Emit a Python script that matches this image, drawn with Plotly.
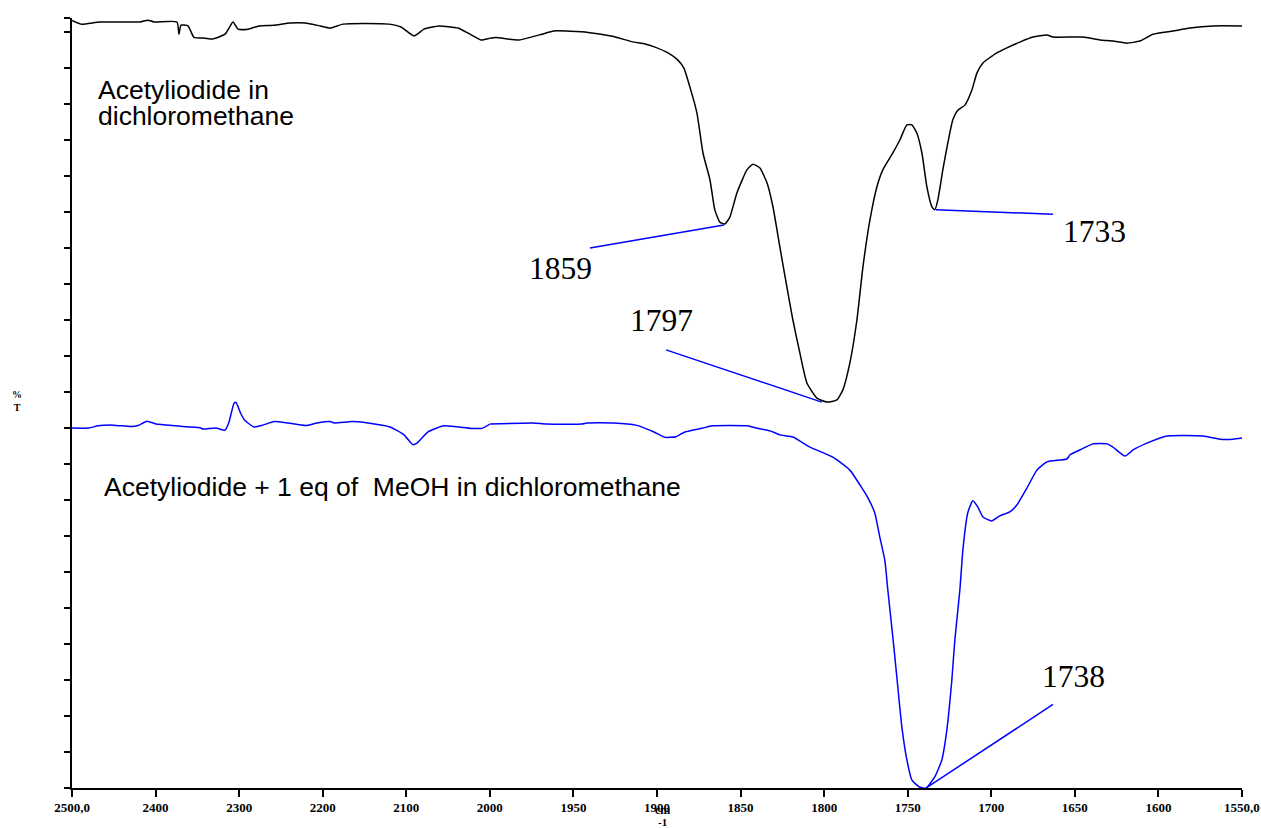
import plotly.graph_objects as go

# ---------------- data (wavenumber cm-1, %T in arbitrary tick units) ----------------
black_wn = [2500, 2489.2, 2466.5, 2418.6, 2409.1, 2401.9, 2374.4, 2372.0, 2369.6, 2361.2,
            2354.0, 2340.9, 2331.3, 2316.9, 2307.3, 2301.4, 2289.4, 2276.2, 2258.3, 2239.1,
            2221.2, 2203.2, 2191.3, 2175.7, 2120.7, 2106.3, 2090.8, 2078.8, 2060.8, 2038.1,
            2023.8, 2010.6, 2000.0, 1996.4, 1982.6, 1968.8, 1961.7, 1941.3, 1927.5, 1913.8,
            1907.2, 1901.2, 1893.4, 1887.5, 1883.9, 1880.3, 1876.1, 1872.5, 1868.3, 1865.4,
            1862.4, 1859.4, 1856.4, 1852.2, 1846.2, 1842.6, 1838.4, 1834.2, 1830.6, 1826.5,
            1822.3, 1818.7, 1814.5, 1810.3, 1804.3, 1798.3, 1792.4, 1788.8, 1784.6, 1780.4,
            1776.8, 1772.6, 1768.5, 1764.9, 1758.9, 1754.7, 1750.5, 1747.5, 1744.5, 1741.5,
            1738.5, 1735.5, 1733.8, 1732.0, 1729.0, 1726.0, 1723.0, 1720.0, 1715.8, 1711.6,
            1708.6, 1705.0, 1696.7, 1690.7, 1682.9, 1675.1, 1666.7, 1663.1, 1645.2, 1635.0,
            1627.2, 1618.8, 1611.1, 1603.3, 1591.3, 1581.2, 1567.4, 1550.0]
black_t = [21.32, 21.22, 21.28, 21.28, 21.33, 21.28, 21.28, 20.94, 21.19, 21.17,
           20.85, 20.83, 20.81, 20.94, 21.28, 21.08, 21.08, 21.17, 21.19, 21.25,
           21.25, 21.17, 21.11, 21.22, 21.22, 21.14, 20.89, 21.08, 21.17, 21.11,
           20.94, 20.78, 20.83, 20.85, 20.78, 20.94, 21.03, 20.99, 20.89, 20.72,
           20.67, 20.58, 20.42, 20.22, 20.00, 19.47, 18.75, 17.64, 16.89, 16.06,
           15.72, 15.67, 15.86, 16.53, 17.17, 17.33, 17.22, 16.81, 16.14, 15.03,
           13.92, 13.00, 12.08, 11.25, 10.83, 10.72, 10.78, 11.06, 11.81, 13.00,
           14.47, 15.78, 16.69, 17.17, 17.64, 18.00, 18.42, 18.42, 18.19, 17.64,
           16.69, 16.14, 16.06, 16.33, 17.17, 17.92, 18.56, 18.83, 18.97, 19.39,
           19.86, 20.14, 20.42, 20.56, 20.72, 20.86, 20.92, 20.86, 20.86, 20.78,
           20.75, 20.69, 20.75, 20.94, 21.03, 21.11, 21.17, 21.17]

blue_wn = [2500, 2479.7, 2468.9, 2450.2, 2429.4, 2421.0, 2410.3, 2399.5, 2375.6, 2359.4,
           2346.1, 2343.2, 2327.7, 2316.9, 2312.1, 2306.1, 2303.7, 2297.8, 2293.0, 2282.2,
           2271.5, 2258.3, 2241.5, 2220.6, 2206.8, 2191.3, 2185.9, 2164.9, 2145.8, 2119.5,
           2102.7, 2092.3, 2087.2, 2074.0, 2054.9, 2022.6, 2009.4, 2000.0, 1974.2, 1966.1,
           1944.9, 1941.9, 1926.0, 1912.6, 1901.8, 1895.2, 1888.6, 1883.3, 1872.5, 1867.1,
           1845.9, 1840.8, 1832.4, 1826.5, 1818.7, 1808.5, 1794.8, 1784.6, 1778.6, 1773.8,
           1769.7, 1766.7, 1763.7, 1761.9, 1758.9, 1756.5, 1753.5, 1750.5, 1747.5, 1742.7,
           1739.0, 1733.8, 1729.6, 1726.6, 1723.6, 1721.8, 1718.8, 1717.0, 1714.1, 1711.1,
           1708.1, 1705.0, 1699.7, 1694.9, 1688.9, 1684.7, 1678.7, 1672.7, 1666.7, 1654.8,
           1653.0, 1647.0, 1639.2, 1630.8, 1627.2, 1620.0, 1615.2, 1606.9, 1594.9, 1573.4,
           1563.2, 1555.4, 1550.0]
blue_t = [10.00, 10.00, 10.06, 10.08, 10.04, 10.07, 10.19, 10.11, 10.06, 10.03,
          10.00, 9.97, 10.00, 9.94, 10.17, 10.69, 10.71, 10.39, 10.21, 10.03,
          10.08, 10.18, 10.14, 10.07, 10.14, 10.18, 10.14, 10.18, 10.14, 10.03,
          9.81, 9.54, 9.58, 9.89, 10.06, 9.99, 9.99, 10.11, 10.14, 10.11,
          10.11, 10.14, 10.14, 10.08, 9.89, 9.74, 9.76, 9.89, 10.00, 10.06,
          10.06, 10.00, 9.92, 9.81, 9.75, 9.47, 9.19, 8.83, 8.42, 8.06,
          7.64, 6.97, 6.33, 5.50, 4.19, 3.08, 1.69, 0.78, 0.22, 0.02,
          0.00, 0.31, 0.78, 1.61, 3.00, 4.11, 5.50, 6.61, 7.64, 7.98,
          7.81, 7.53, 7.42, 7.56, 7.67, 7.86, 8.33, 8.83, 9.06, 9.14,
          9.25, 9.39, 9.56, 9.56, 9.47, 9.22, 9.39, 9.58, 9.78, 9.78,
          9.69, 9.69, 9.72]

left_ticks = [2500, 2400, 2300, 2200, 2100, 2000]
left_ticktext = ["2500,0", "2400", "2300", "2200", "2100", "2000"]
right_ticks = [1950, 1900, 1850, 1800, 1750, 1700, 1650, 1600, 1550]
right_ticktext = ["1950", "1900", "1850", "1800", "1750", "1700", "1650", "1600", "1550,0"]

# peak callouts: label, label position (wn, T), line start (wn, T), line end (wn, T)
peak_labels = ["1859", "1797", "1733", "1738"]
peak_label_wn = [1957.6, 1897.2, 1638.0, 1651.1]
peak_label_t = [14.43, 12.99, 15.47, 3.11]
peak_line_wn0 = [1940.1, 1894.6, 1733.1, 1738.7]
peak_line_t0 = [15.00, 12.17, 16.06, 0.01]
peak_line_wn1 = [1859.9, 1801.4, 1663.1, 1663.1]
peak_line_t1 = [15.64, 10.72, 15.94, 2.32]

Y_TOP = 21.39
BREAK = 2000
SPLIT = 5 / 14


def split(wn, t):
    a = [(w, v) for w, v in zip(wn, t) if w >= BREAK]
    b = [(w, v) for w, v in zip(wn, t) if w <= BREAK]
    return ([p[0] for p in a], [p[1] for p in a]), ([p[0] for p in b], [p[1] for p in b])


fig = go.Figure()
for wn, t, col in [(black_wn, black_t, "black"), (blue_wn, blue_t, "#0000ff")]:
    (x1, y1), (x2, y2) = split(wn, t)
    fig.add_trace(go.Scatter(x=x1, y=y1, xaxis="x", yaxis="y", mode="lines",
                             line=dict(color=col, width=1.5, shape="spline", smoothing=0.5),
                             showlegend=False))
    fig.add_trace(go.Scatter(x=x2, y=y2, xaxis="x2", yaxis="y", mode="lines",
                             line=dict(color=col, width=1.5, shape="spline", smoothing=0.5),
                             showlegend=False))

for i in range(len(peak_labels)):
    fig.add_shape(type="line", xref="x2", yref="y",
                  x0=peak_line_wn0[i], y0=peak_line_t0[i],
                  x1=peak_line_wn1[i], y1=peak_line_t1[i],
                  line=dict(color="#0000ff", width=1.5))
    fig.add_annotation(xref="x2", yref="y", x=peak_label_wn[i], y=peak_label_t[i],
                       text=peak_labels[i], showarrow=False,
                       xanchor="center", yanchor="middle",
                       font=dict(family="Liberation Serif", size=31.5, color="black"))

sans = dict(family="Liberation Sans, Arial", size=26.5, color="black")
fig.add_annotation(xref="x", yref="y", x=2471.5, y=19.39, xanchor="left", yanchor="middle",
                   text="Acetyliodide in", showarrow=False, font=sans)
fig.add_annotation(xref="x", yref="y", x=2471.5, y=18.67, xanchor="left", yanchor="middle",
                   text="dichloromethane", showarrow=False, font=sans)
fig.add_annotation(xref="x", yref="y", x=2464.0, y=8.36, xanchor="left", yanchor="middle",
                   text="Acetyliodide + 1 eq of \u00a0MeOH in dichloromethane",
                   showarrow=False, font=sans)

# axis titles
fig.add_annotation(xref="paper", yref="paper", x=-0.047, y=0.5032,
                   xanchor="center", yanchor="middle", text="<b>%<br>T</b>",
                   showarrow=False, font=dict(family="Liberation Serif", size=10, color="black"))
fig.add_annotation(xref="paper", yref="paper", x=0.505, y=-0.0286,
                   xanchor="center", yanchor="middle", text="<b>cm</b>",
                   showarrow=False, font=dict(family="Liberation Serif", size=12, color="black"))
fig.add_annotation(xref="paper", yref="paper", x=0.505, y=-0.0442,
                   xanchor="center", yanchor="middle", text="<b>-1</b>",
                   showarrow=False, font=dict(family="Liberation Serif", size=11, color="black"))

axis_common = dict(showgrid=False, zeroline=False, showline=True, linecolor="black",
                   linewidth=1.5, ticks="outside", ticklen=7, tickwidth=1.5,
                   tickcolor="black", automargin=False,
                   tickfont=dict(family="Liberation Serif", size=13, color="black",
                                 weight="bold"))

fig.update_layout(
    width=1261, height=828,
    margin=dict(l=72, r=19, t=18, b=40, autoexpand=False),
    paper_bgcolor="white", plot_bgcolor="white",
    xaxis=dict(domain=[0, SPLIT], range=[2500, BREAK], anchor="y",
               tickmode="array", tickvals=left_ticks, ticktext=left_ticktext, **axis_common),
    xaxis2=dict(domain=[SPLIT, 1], range=[BREAK, 1550], anchor="y",
                tickmode="array", tickvals=right_ticks, ticktext=right_ticktext, **axis_common),
    yaxis=dict(range=[0, Y_TOP], anchor="x", showgrid=False, zeroline=False, showline=True,
               linecolor="black", linewidth=1.5, ticks="outside", ticklen=6, tickwidth=1.5,
               tickcolor="black", showticklabels=False, tickmode="array", automargin=False,
               tickvals=list(range(0, 22)) + [Y_TOP]),
    showlegend=False,
)

fig.write_html(
    "out.html",
    config={"displayModeBar": False},
    post_script="document.body.style.margin='0';document.body.style.overflow='hidden';",
)
